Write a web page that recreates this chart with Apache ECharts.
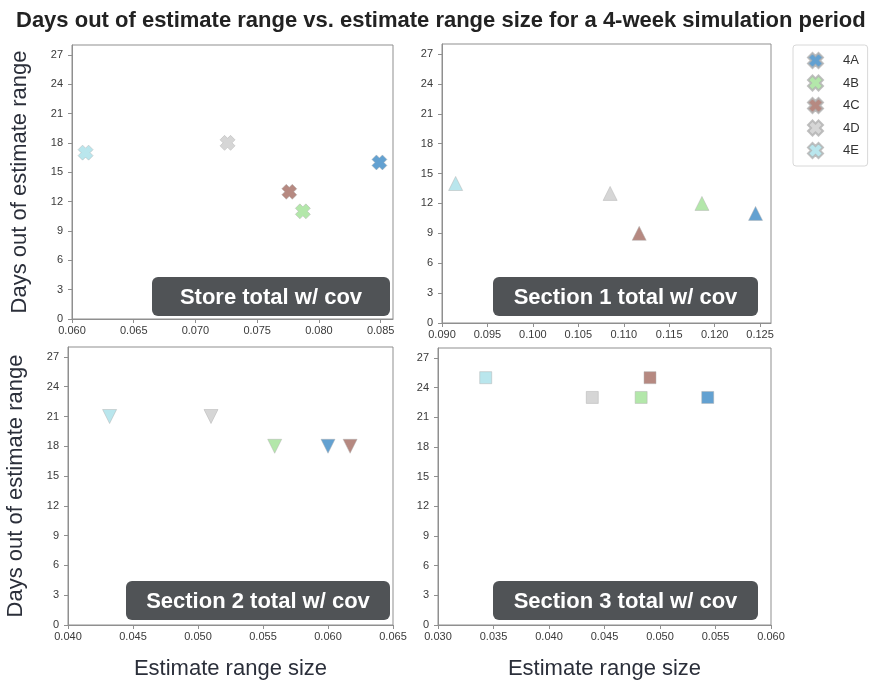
<!DOCTYPE html>
<html>
<head>
<meta charset="utf-8">
<script src="https://cdn.jsdelivr.net/npm/echarts@6/dist/echarts.min.js"></script>
<style>html,body{margin:0;padding:0;background:#fff}#c{width:873px;height:681px}</style>
</head>
<body>
<div id="c"></div>
<script>
const groups = ['4A', '4B', '4C', '4D', '4E'];
const colors = ['#3c8ac6', '#a0e195', '#a46b61', '#cccccc', '#a8e0e8'];
const panelTitles = ['Store total w/ cov', 'Section 1 total w/ cov', 'Section 2 total w/ cov', 'Section 3 total w/ cov'];
const yTicks = [0, 3, 6, 9, 12, 15, 18, 21, 24, 27];

const storeX = [0.0849, 0.0787, 0.0776, 0.0726, 0.0611];
const storeY = [16, 11, 13, 18, 17];
const sec1X = [0.1245, 0.1186, 0.1117, 0.1085, 0.0915];
const sec1Y = [11, 12, 9, 13, 14];
const sec2X = [0.0600, 0.0559, 0.0617, 0.0510, 0.0432];
const sec2Y = [18, 18, 18, 21, 21];
const sec3X = [0.0543, 0.0483, 0.0491, 0.0439, 0.0343];
const sec3Y = [23, 23, 25, 23, 25];

const xTicksStore = [0.060, 0.065, 0.070, 0.075, 0.080, 0.085];
const xTicksSec1 = [0.090, 0.095, 0.100, 0.105, 0.110, 0.115, 0.120, 0.125];
const xTicksSec2 = [0.040, 0.045, 0.050, 0.055, 0.060, 0.065];
const xTicksSec3 = [0.030, 0.035, 0.040, 0.045, 0.050, 0.055, 0.060];

const X_PATH = 'path://M3,0 L5,2 L7,0 L10,3 L8,5 L10,7 L7,10 L5,8 L3,10 L0,7 L2,5 L0,3 Z';

const panels = [
  { xs: storeX, ys: storeY, ticks: xTicksStore, xmax: 0.086, symbol: X_PATH, size: 15, rot: 0,
    grid: { left: 72, top: 45, width: 321, height: 274 }, box: [152, 277, 238, 39] },
  { xs: sec1X, ys: sec1Y, ticks: xTicksSec1, xmax: 0.1262, symbol: 'triangle', size: 14, rot: 0,
    grid: { left: 442, top: 44, width: 329, height: 279 }, box: [493, 277, 265, 39] },
  { xs: sec2X, ys: sec2Y, ticks: xTicksSec2, xmax: 0.065, symbol: 'triangle', size: 14, rot: 180,
    grid: { left: 68, top: 347, width: 325, height: 279 }, box: [126, 581, 264, 39] },
  { xs: sec3X, ys: sec3Y, ticks: xTicksSec3, xmax: 0.060, symbol: 'rect', size: 12, rot: 0,
    grid: { left: 438, top: 348, width: 333, height: 280 }, box: [493, 581, 265, 39] }
];

const axisColor = '#8f8f8f';
const labelStyle = { color: '#3a3a3a', fontSize: 11, fontFamily: 'Liberation Sans' };
const nameStyle = { color: '#2b2f3a', fontSize: 22, fontFamily: 'Liberation Sans' };

const grid = [], xAxis = [], yAxis = [], series = [], graphic = [];
panels.forEach((p, i) => {
  grid.push(Object.assign({ show: true, borderColor: axisColor, borderWidth: 1, backgroundColor: '#fff' }, p.grid));
  const step = p.ticks[1] - p.ticks[0];
  const lastTick = p.ticks[p.ticks.length - 1];
  xAxis.push({
    type: 'value', gridIndex: i, min: p.ticks[0], max: p.xmax, interval: step,
    name: i >= 2 ? 'Estimate range size' : '', nameLocation: 'middle', nameGap: 33,
    nameTextStyle: nameStyle,
    axisLine: { show: true, lineStyle: { color: axisColor } },
    axisTick: { show: true, length: 4, lineStyle: { color: axisColor } },
    splitLine: { show: false },
    axisLabel: Object.assign({ margin: 6, showMaxLabel: Math.abs(p.xmax - lastTick) < 1e-9,
      formatter: v => v.toFixed(3) }, labelStyle)
  });
  yAxis.push({
    type: 'value', gridIndex: i, min: yTicks[0], max: 28, interval: yTicks[1] - yTicks[0],
    name: (i % 2 === 0) ? 'Days out of estimate range' : '', nameLocation: 'middle', nameGap: 41,
    nameTextStyle: nameStyle,
    axisLine: { show: true, lineStyle: { color: axisColor } },
    axisTick: { show: true, length: 4, lineStyle: { color: axisColor } },
    splitLine: { show: false },
    axisLabel: Object.assign({ margin: 9, showMaxLabel: false }, labelStyle)
  });
  groups.forEach((g, k) => {
    series.push({
      type: 'scatter', name: g, xAxisIndex: i, yAxisIndex: i,
      symbol: p.symbol, symbolSize: p.size, symbolRotate: p.rot,
      itemStyle: { color: colors[k], borderColor: '#b0b0b0', borderWidth: 0.6 },
      data: [[p.xs[k], p.ys[k]]],
      z: 5
    });
  });
  graphic.push({
    type: 'group', z: 100,
    children: [
      { type: 'rect', shape: { x: p.box[0], y: p.box[1], width: p.box[2], height: p.box[3], r: 6 },
        style: { fill: '#505356' } },
      { type: 'text', x: p.box[0] + p.box[2] / 2, y: p.box[1] + p.box[3] / 2 + 1,
        style: { text: panelTitles[i], fill: '#ffffff', font: 'bold 22px "Liberation Sans"',
          textAlign: 'center', textVerticalAlign: 'middle' } }
    ]
  });
});

const chart = echarts.init(document.getElementById('c'));
chart.setOption({
  animation: false,
  backgroundColor: '#fff',
  title: {
    text: 'Days out of estimate range vs. estimate range size for a 4-week simulation period',
    left: 11, top: 5,
    textStyle: { fontSize: 22, fontWeight: 'bold', color: '#222', fontFamily: 'Liberation Sans' }
  },
  legend: {
    data: groups, orient: 'vertical', left: 793, top: 45,
    padding: [7, 8, 7, 14], itemWidth: 15, itemHeight: 15, itemGap: 5.5,
    borderColor: '#d8d8d8', borderWidth: 1, borderRadius: 3,
    textStyle: { color: '#333', fontSize: 13, fontFamily: 'Liberation Sans', padding: [0, 0, 0, 15] }
  },
  grid, xAxis, yAxis, series, graphic
});
</script>
</body>
</html>
